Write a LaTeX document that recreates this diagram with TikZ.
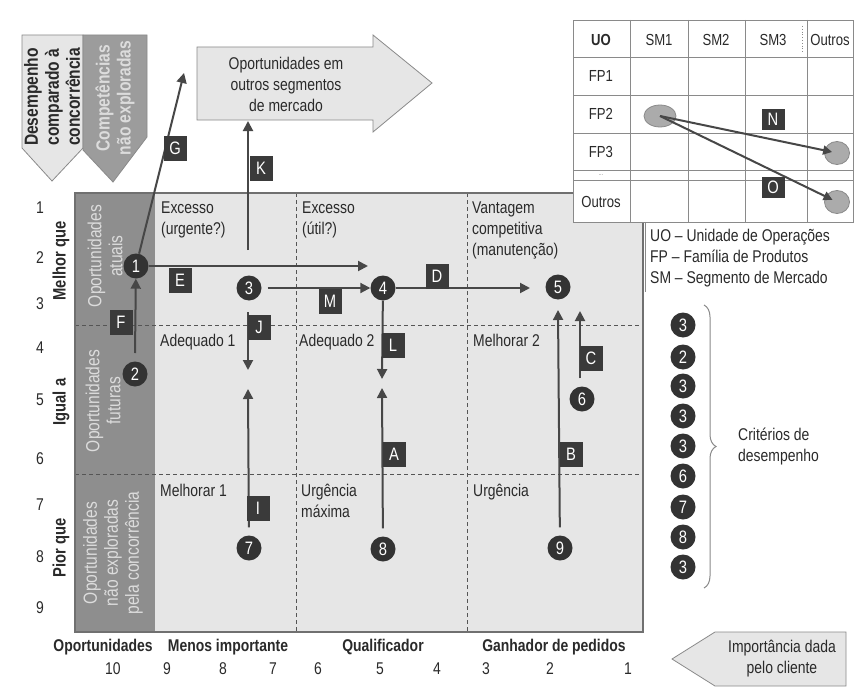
\documentclass[tikz,border=0pt]{standalone}
\usepackage{fontspec}
\setmainfont{Liberation Sans}[FakeStretch=0.82]
\usetikzlibrary{arrows.meta,decorations.pathreplacing,shapes.geometric}
\definecolor{boxc}{HTML}{3A3A3A}
\definecolor{circc}{HTML}{333333}
\definecolor{linec}{HTML}{474747}
\definecolor{regionc}{HTML}{E6E6E6}
\definecolor{colc}{HTML}{8E8E8E}
\definecolor{coltext}{HTML}{DCDCDC}
\definecolor{txtc}{HTML}{2A2A2A}
\definecolor{arrlight}{HTML}{E6E6E6}
\definecolor{arrdark}{HTML}{9C9C9C}
\definecolor{framec}{HTML}{707070}
\definecolor{ellc}{HTML}{ABABAB}
\definecolor{gridc}{HTML}{8A8A8A}
\definecolor{dashc}{HTML}{555555}
\newcommand\myfs{\fontsize{17}{21}\selectfont}
\newcommand\mybig{\fontsize{19}{21}\selectfont}
\begin{document}
\begin{tikzpicture}[x=1pt,y=-1pt,
  every node/.style={font=\myfs, text=txtc},
  lbl/.style={fill=boxc, text=white, minimum width=23pt, minimum height=25pt, inner sep=0pt, font=\fontsize{18}{18}\selectfont},
  dot/.style={circle, fill=circc, text=white, minimum size=25pt, inner sep=0pt, font=\fontsize{18}{18}\selectfont},
  arr/.style={draw=linec, line width=2pt, -{Triangle[length=10pt,width=10pt]}},
  zone/.style={anchor=north west, align=left, inner sep=0pt},
  vlab/.style={rotate=90, align=center, inner sep=0pt},
  grid/.style={draw=gridc, line width=0.8pt},
  divide/.style={draw=dashc, line width=0.9pt, dash pattern=on 4pt off 3pt},
  ell/.style={ellipse, fill=ellc, draw=gridc, line width=0.8pt, inner sep=0pt},
]
\useasboundingbox (0,0) rectangle (862,693);
\fill[white] (0,0) rectangle (862,693);

% ---------- top-left arrows
\filldraw[fill=arrlight, draw=gridc, line width=0.8pt] (22,35) -- (83,35) -- (83,148) -- (52,181) -- (22,148) -- cycle;
\filldraw[fill=arrdark, draw=gridc, line width=0.8pt] (83,35) -- (147,35) -- (147,137) -- (113,182) -- (83,150) -- cycle;
\node[vlab, font=\mybig\bfseries] (desemp) at (52,97) {Desempenho\\comparado à\\concorrência};
\node[vlab, font=\mybig\bfseries, text=coltext] (compet) at (115,98) {Competências\\não exploradas};

% ---------- top big arrow
\filldraw[fill=arrlight, draw=gridc, line width=0.8pt] (197,47) -- (373,47) -- (373,35) -- (432,83) -- (373,132) -- (373,120) -- (197,120) -- cycle;
\node[align=center] (outros) at (286,84) {Oportunidades em\\outros segmentos\\de mercado};

% ---------- chart regions
\fill[regionc] (155,193) rectangle (643,632);
\fill[colc] (75,193) rectangle (155,632);
\draw[divide] (75,325) -- (643,325);
\draw[divide] (75,474) -- (643,474);
\draw[divide] (296,193) -- (296,632);
\draw[divide] (467,193) -- (467,632);
\draw[draw=framec, line width=1.2pt] (75,193) rectangle (643,632);

% left column texts
\node[vlab, font=\mybig, text=coltext] (oatu) at (105,256) {Oportunidades\\atuais};
\node[vlab, font=\mybig, text=coltext] (ofut) at (103,401) {Oportunidades\\futuras};
\node[vlab, font=\mybig, text=coltext] (onex) at (113,553) {Oportunidades\\não exploradas\\pela concorrência};

% side labels
\node[vlab, font=\fontsize{18}{21}\selectfont\bfseries] (melhor) at (61,261) {Melhor que};
\node[vlab, font=\fontsize{18}{21}\selectfont\bfseries] (igual) at (61,402) {Igual a};
\node[vlab, font=\fontsize{18}{21}\selectfont\bfseries] (pior) at (61,548) {Pior que};

% row numbers
\foreach \n/\yy in {1/208,2/258,3/304,4/348,5/400,6/459,7/505,8/557,9/608}
  \node[text=txtc] (r\n) at (40,\yy) {\n};

% zone labels
\node[zone] (z1) at (161,202) {Excesso\\(urgente?)};
\node[zone] (z2) at (302,202) {Excesso\\(útil?)};
\node[zone] (z3) at (472,202) {Vantagem\\competitiva\\(manutenção)};
\node[zone] (z4) at (160,334) {Adequado 1};
\node[zone] (z5) at (299,334) {Adequado 2};
\node[zone] (z6) at (473,334) {Melhorar 2};
\node[zone] (z7) at (160,484) {Melhorar 1};
\node[zone] (z8) at (301,484) {Urgência\\máxima};
\node[zone] (z9) at (473,484) {Urgência};

% bottom labels
\node[font=\myfs\bfseries] (b1) at (103,647) {Oportunidades};
\node[font=\myfs\bfseries] (b2) at (228,647) {Menos importante};
\node[font=\myfs\bfseries] (b3) at (383,647) {Qualificador};
\node[font=\myfs\bfseries] (b4) at (554,647) {Ganhador de pedidos};
\foreach \n/\xx in {10/113,9/167,8/223,7/273,6/318,5/380,4/437,3/486,2/550,1/628}
  \node (c\n) at (\xx,669) {\n};

% ---------- numbered circles
\node[dot] (n1) at (136,266) {1};
\node[dot] (n2) at (135,374) {2};
\node[dot] (n3) at (249,288) {3};
\node[dot] (n4) at (383,288) {4};
\node[dot] (n5) at (558,287) {5};
\node[dot] (n6) at (582,399) {6};
\node[dot] (n7) at (249,548) {7};
\node[dot] (n8) at (383,549) {8};
\node[dot] (n9) at (560,548) {9};

\coordinate (gt) at (184,73);
\coordinate (et) at (368,266);
\coordinate (ks) at (248,250);
\coordinate (kt) at (248,121);
\coordinate (dt) at (530,288);
\coordinate (js) at (248,312);
\coordinate (jt) at (248,370);
\coordinate (lt) at (382,379);
\coordinate (fs) at (135,353);
\coordinate (it) at (248,389);
\coordinate (at) at (382,388);
\coordinate (bt) at (558,310);
\coordinate (ct) at (580,311);

\draw[arr] (n1) -- (gt);
\draw[arr] (n1) -- (et);
\draw[arr] (ks) -- (kt);
\draw[arr, shorten <=6pt] (n3) -- (n4);
\draw[arr] (n4) -- (dt);
\draw[arr] (js) -- (jt);
\draw[arr] (n4) -- (lt);
\draw[arr] (fs) -- (n1);
\draw[arr, shorten <=8pt] (n7) -- (it);
\draw[arr, shorten <=8pt] (n8) -- (at);
\draw[arr, shorten <=8pt] (n9) -- (bt);
\draw[arr, shorten <=8pt] (n6.north -| ct) -- (ct);

% letter boxes
\node[lbl] (lg) at (175,148) {G};
\node[lbl] (le) at (180,280) {E};
\node[lbl] (lk) at (261,168) {K};
\node[lbl] (lm) at (330,301) {M};
\node[lbl] (ld) at (437,276) {D};
\node[lbl] (lj) at (259,327) {J};
\node[lbl] (ll) at (393,345) {L};
\node[lbl] (lf) at (121,322) {F};
\node[lbl] (li) at (258,508) {I};
\node[lbl] (la) at (394,454) {A};
\node[lbl] (lb) at (571,454) {B};
\node[lbl] (lc) at (591,358) {C};

% ---------- criteria column
\foreach \v/\yy [count=\k] in {3/325,2/357,3/386,3/416,3/446,6/476,7/507,8/537,3/567}
  \node[dot] (k\k) at (683,\yy) {\v};
\draw[draw=gridc, line width=1pt, decorate, decoration={brace, amplitude=12pt}] (704,305) -- (704,588);
\node[anchor=west, align=left, inner sep=0pt] (crit) at (738,447) {Critérios de\\desempenho};

% ---------- importance arrow
\filldraw[fill=arrlight, draw=gridc, line width=0.8pt] (672,659) -- (715,632) -- (846,632) -- (846,686) -- (715,686) -- cycle;
\node[align=center] (imp) at (782,659) {Importância dada\\pelo cliente};

% ---------- table
\fill[white] (573,20) rectangle (853,222);
\draw[grid] (573,20) rectangle (853,222);
\foreach \yy in {57,95,133,170,180}
  \draw[grid] (573,\yy) -- (853,\yy);
\foreach \xx in {630,688,745,807}
  \draw[grid] (\xx,20) -- (\xx,222);
\draw[grid, dotted, line width=1pt] (802,26) -- (802,52);
\draw[grid] (645,222) -- (645,292);
\node[font=\fontsize{16}{16}\selectfont\bfseries] (tuo) at (601,40) {UO};
\node[font=\fontsize{16}{16}\selectfont] (tsm1) at (659,40) {SM1};
\node[font=\fontsize{16}{16}\selectfont] (tsm2) at (716,40) {SM2};
\node[font=\fontsize{16}{16}\selectfont] (tsm3) at (773,40) {SM3};
\node[font=\fontsize{16}{16}\selectfont] (tout) at (830,40) {Outros};
\node[font=\fontsize{16}{16}\selectfont] (tfp1) at (601,76) {FP1};
\node[font=\fontsize{16}{16}\selectfont] (tfp2) at (601,114) {FP2};
\node[font=\fontsize{16}{16}\selectfont] (tfp3) at (601,152) {FP3};
\node[font=\fontsize{7}{7}\selectfont, text=gridc] (tdots) at (601,175) {...};
\node[font=\fontsize{16}{16}\selectfont] (tout2) at (601,202) {Outros};

\node[ell, minimum width=32pt, minimum height=22pt] (e1) at (660,116) {};
\node[ell, minimum width=25pt, minimum height=23pt] (e2) at (837,153) {};
\node[ell, minimum width=25pt, minimum height=23pt] (e3) at (837,202) {};
\draw[draw=linec, line width=2pt, -{Triangle[length=9pt,width=9pt]}, shorten >=5pt] (e1.center) -- (e2.center);
\draw[draw=linec, line width=2pt, -{Triangle[length=9pt,width=9pt]}, shorten >=5pt] (e1.center) -- (e3.center);
\node[lbl, minimum height=21pt] (ln) at (773,119) {N};
\node[lbl, minimum height=21pt] (lo) at (773,187) {O};

% legend
\node[anchor=north west, align=left, inner sep=0pt] (leg) at (650,229) {UO -- Unidade de Operações\\FP -- Família de Produtos\\SM -- Segmento de Mercado};
\end{tikzpicture}
\end{document}
